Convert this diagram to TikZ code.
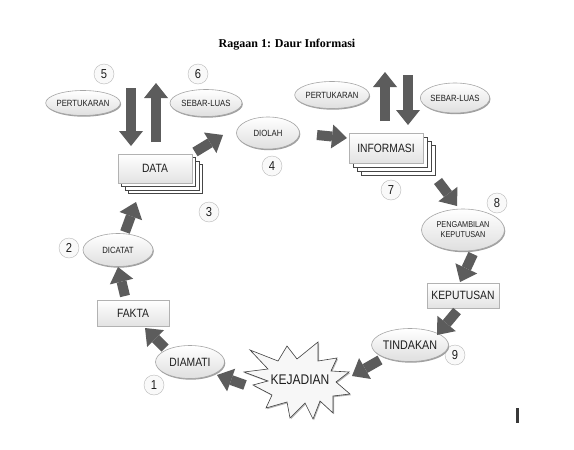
\documentclass[tikz,border=0pt]{standalone}
\usepackage{fontspec}
\setmainfont{Liberation Serif}
\newfontfamily\narrow[FakeStretch=0.86]{Liberation Sans}
\usetikzlibrary{shapes.geometric,shadows,arrows.meta,calc}
\definecolor{arr}{HTML}{5C5C5C}
\definecolor{txt}{HTML}{1E1E1E}
\begin{document}
\begin{tikzpicture}[x=1pt,y=-1pt,
  oval/.style={ellipse, draw=gray!70, line width=0.6pt, top color=white, bottom color=gray!25,
    inner sep=0pt, text=txt, drop shadow={shadow xshift=0.8pt, shadow yshift=-1.2pt, fill=gray!75, opacity=1}},
  smalltxt/.style={font=\narrow\fontsize{9}{10}\selectfont},
  bigtxt/.style={font=\narrow\fontsize{12}{13}\selectfont},
  num/.style={circle, draw=gray!55, fill=gray!5, minimum size=20pt, inner sep=0pt, text=txt,
    font=\narrow\fontsize{13}{13}\selectfont},
  box/.style={rectangle, draw=gray!60, line width=0.6pt, top color=white, bottom color=gray!22,
    inner sep=0pt, text=txt, drop shadow={shadow xshift=1pt, shadow yshift=-1.2pt, fill=gray!60, opacity=1}},
  copybox/.style={rectangle, draw=gray!55!black, fill=white, line width=0.6pt, inner sep=0pt},
  bigarrow/.style={draw=arr, line width=10pt, -{Triangle[width=24pt,length=15pt,line width=0pt]}}
]
\fill[white] (0,0) rectangle (574,450);
\useasboundingbox (0,0) rectangle (574,450);

% title
\node[font=\bfseries\fontsize{12}{13}\selectfont] (title) at (287,45) {Ragaan 1: Daur Informasi};

% numbers
\node[num] (n1) at (154,385) {1};
\node[num] (n2) at (69,248) {2};
\node[num] (n3) at (209,212) {3};
\node[num] (n4) at (272,166) {4};
\node[num] (n5) at (104,74) {5};
\node[num] (n6) at (198,74) {6};
\node[num] (n7) at (391,190) {7};
\node[num] (n8) at (497,203) {8};
\node[num] (n9) at (455,355) {9};

% ellipses
\node[oval, smalltxt, minimum width=66pt, minimum height=25pt] (pertL) at (83,103) {PERTUKARAN};
\node[oval, smalltxt, minimum width=72pt, minimum height=27pt] (sebarL) at (206,103) {SEBAR-LUAS};
\node[oval, smalltxt, minimum width=63pt, minimum height=32pt] (diolah) at (268,133) {DIOLAH};
\node[oval, smalltxt, minimum width=72pt, minimum height=27pt] (pertR) at (332,95) {PERTUKARAN};
\node[oval, smalltxt, minimum width=64pt, minimum height=30pt] (sebarR) at (455,98) {SEBAR-LUAS};
\node[oval, font=\narrow\fontsize{8.5}{10}\selectfont, align=center, minimum width=83pt, minimum height=42pt] (peng) at (463,230) {PENGAMBILAN\\KEPUTUSAN};
\node[oval, font=\narrow\fontsize{12.5}{13}\selectfont, minimum width=70pt, minimum height=33pt] (tind) at (410,345) {TINDAKAN};
\node[oval, bigtxt, minimum width=69pt, minimum height=33pt] (diam) at (190,362) {DIAMATI};
\node[oval, smalltxt, minimum width=70pt, minimum height=33pt] (dicatat) at (118,250) {DICATAT};

% stacked DATA
\node[copybox, minimum width=74pt, minimum height=29pt] (data3) at (165.5,179) {};
\node[copybox, minimum width=74pt, minimum height=29pt] (data2) at (162,175.5) {};
\node[copybox, minimum width=74pt, minimum height=29pt] (data1) at (158.5,172) {};
\node[box, bigtxt, minimum width=74pt, minimum height=29pt] (data) at (155,168.5) {DATA};

% stacked INFORMASI
\node[copybox, minimum width=74pt, minimum height=30pt] (info3) at (398,160) {};
\node[copybox, minimum width=74pt, minimum height=30pt] (info2) at (394,156) {};
\node[copybox, minimum width=74pt, minimum height=30pt] (info1) at (390,152) {};
\node[box, bigtxt, minimum width=74pt, minimum height=30pt] (info) at (386,148) {INFORMASI};

% boxes
\node[box, bigtxt, minimum width=72pt, minimum height=25pt] (kep) at (463,295.5) {KEPUTUSAN};
\node[box, bigtxt, minimum width=72pt, minimum height=26pt] (fakta) at (133,313) {FAKTA};

% starburst
\filldraw[draw=gray!50!black, line width=0.6pt, fill=gray!6,
  drop shadow={shadow xshift=1pt, shadow yshift=-1.2pt, fill=gray!60, opacity=1}]
  (250,350) -- (278,361) -- (287,346) -- (297,359) -- (318,342) -- (318,361) -- (337,358)
  -- (331,371) -- (349,372) -- (336,382) -- (350,394) -- (333,396) -- (333,413) -- (320,401)
  -- (313,419) -- (305,403) -- (290,418) -- (287,402) -- (266,408) -- (272,395) -- (253,385)
  -- (268,381) -- (244,372) -- (268,369) -- cycle;
\node[font=\narrow\fontsize{14}{15}\selectfont, text=txt] (kej) at (300,380) {KEJADIAN};

% cycle arrows
\draw[bigarrow] ([shift={(-55,5)}]kej.center) -- ([shift={(27,13)}]diam.center);
\draw[bigarrow] ([shift={(-25,-14)}]diam.center) -- ([shift={(12,15)}]fakta.center);
\draw[bigarrow] ([shift={(-8,-17)}]fakta.center) -- ([shift={(0,17)}]dicatat.center);
\draw[bigarrow] ([shift={(7,-18)}]dicatat.center) -- ([shift={(-19,33.5)}]data.center);
\draw[bigarrow] ([shift={(40,-16.5)}]data.center) -- ([shift={(-45,2)}]diolah.center);
\draw[bigarrow] ([shift={(49,2)}]diolah.center) -- ([shift={(-39,-10)}]info.center);
\draw[bigarrow] ([shift={(52,33)}]info.center) -- ([shift={(-6,-24)}]peng.center);
\draw[bigarrow] ([shift={(10,24)}]peng.center) -- ([shift={(-3,-13.5)}]kep.center);
\draw[bigarrow] ([shift={(-6,15.5)}]kep.center) -- ([shift={(27,-10)}]tind.center);
\draw[bigarrow] ([shift={(-30,15)}]tind.center) -- ([shift={(52,-4)}]kej.center);

% exchange arrows
\draw[bigarrow] ([shift={(48,-15)}]pertL.center) -- ([shift={(-24,-22.5)}]data.center);
\draw[bigarrow] ([shift={(1,-26.5)}]data.center) -- ([shift={(-50,-20)}]sebarL.center);
\draw[bigarrow] ([shift={(-1,-27)}]info.center) -- ([shift={(53,-23)}]pertR.center);
\draw[bigarrow] ([shift={(-47,-23)}]sebarR.center) -- ([shift={(22,-23)}]info.center);

% small mark
\fill[gray!45!black] (516,408) rectangle (518.5,423);
\end{tikzpicture}
\end{document}
